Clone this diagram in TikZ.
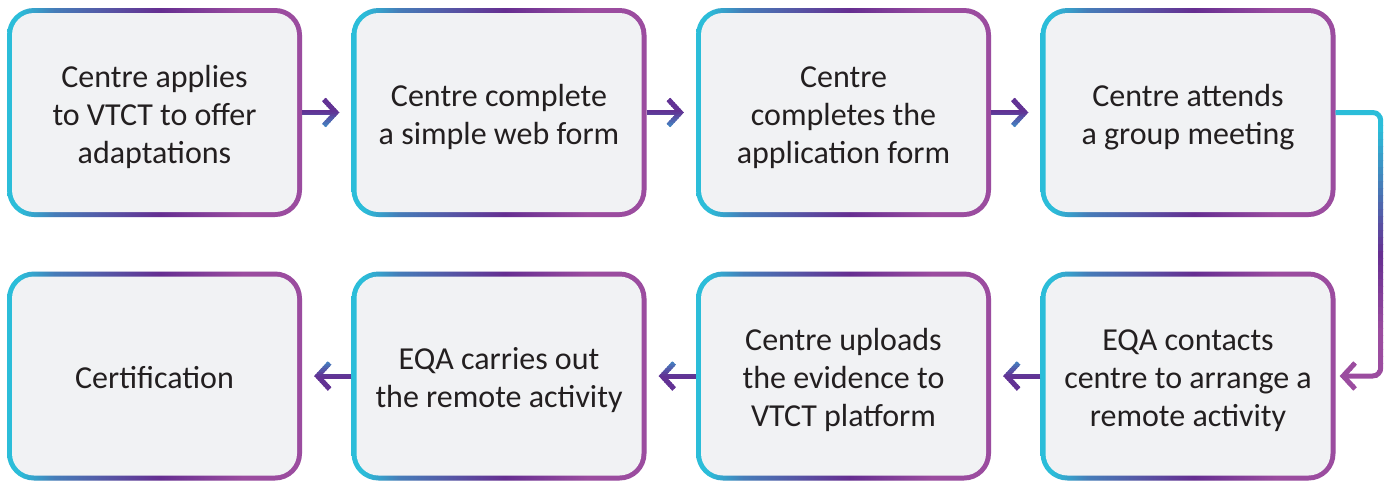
\documentclass[tikz,border=0pt]{standalone}
\usepackage{fontspec}
\setmainfont{Carlito}
\usetikzlibrary{arrows.meta,calc}
\definecolor{cyanc}{HTML}{2BBDD9}
\definecolor{purpd}{HTML}{662E91}
\definecolor{magc}{HTML}{9B4C9F}
\definecolor{boxbg}{HTML}{F1F2F4}
\definecolor{txt}{HTML}{231F20}
\definecolor{arrblue}{HTML}{3F8FC8}
\definecolor{arrpurp}{HTML}{623294}
\pgfdeclarehorizontalshading{boxgrad}{100bp}{color(0bp)=(cyanc); color(27bp)=(cyanc); color(33bp)=(cyanc!55!purpd); color(51bp)=(purpd); color(65bp)=(magc); color(100bp)=(magc)}
\newcommand\tsp{\rule{0pt}{33.6pt}}
\newcommand\bsp{\rule[-8pt]{0pt}{8pt}}
\tikzset{
 stepbox/.style={rectangle, rounded corners=27pt, minimum width=295pt, minimum height=209pt,
   inner sep=0pt, fill=boxbg, text=txt, align=center, font=\fontsize{32}{38}\selectfont,
   path picture={
     \shade[shading=boxgrad] (path picture bounding box.south west) rectangle (path picture bounding box.north east);
     \fill[boxbg, rounded corners=22pt] ([shift={(5pt,5pt)}]path picture bounding box.south west) rectangle ([shift={(-5pt,-5pt)}]path picture bounding box.north east);
   }},
 conn/.style={line width=5pt, -{Straight Barb[length=12pt,width=26pt]}, shorten >=12pt},
 sideconn/.style={line width=5pt, rounded corners=8pt, -{Straight Barb[length=12pt,width=26pt]}, shorten >=4pt},
}
\newcommand\gradconn[3]{%
  \foreach \k in {0,...,15}{%
    \pgfmathsetmacro\ss{#3*((\k+0.5)/16-0.5)*2}%
    \pgfmathtruncatemacro\pblue{max(0,\ss)*100}%
    \colorlet{bandc}{arrblue!\pblue!arrpurp}%
    \begin{scope}
      \clip ($(#1)!0.5!(#2)+(-220,-16+2*\k)$) rectangle ++(440,2.3);
      \draw[conn,bandc] (#1) -- (#2);
    \end{scope}}}
\begin{document}
\begin{tikzpicture}[x=1pt,y=-1pt]
\useasboundingbox (0,0) rectangle (1390,482);
\node[stepbox] (b1) at (154.5,112.5) {\tsp Centre applies\\to VTCT to offer\\adaptations\bsp};
\node[stepbox] (b2) at (499,112.5) {\tsp Centre complete\\a simple web form\bsp};
\node[stepbox] (b3) at (843.5,112.5) {\tsp Centre\\completes the\\application form\bsp};
\node[stepbox] (b4) at (1188,112.5) {\tsp Centre attends\\a group meeting\bsp};
\node[stepbox] (b5) at (1188,376) {\tsp EQA contacts\\centre to arrange a\\remote activity\bsp};
\node[stepbox] (b6) at (843.5,376) {\tsp Centre uploads\\the evidence to\\VTCT platform\bsp};
\node[stepbox] (b7) at (499,376) {\tsp EQA carries out\\the remote activity\bsp};
\node[stepbox] (b8) at (154.5,376) {\tsp Certification\bsp};
\gradconn{b1}{b2}{1}
\gradconn{b2}{b3}{1}
\gradconn{b3}{b4}{1}
\gradconn{b5}{b6}{-1}
\gradconn{b6}{b7}{-1}
\gradconn{b7}{b8}{-1}
\foreach \k in {0,...,41}{%
  \pgfmathsetmacro\yc{104+7*\k+3.5}%
  \pgfmathtruncatemacro\cyp{\yc<130 ? 100 : (\yc<255 ? 100-(\yc-130)/125*100 : 0)}%
  \pgfmathtruncatemacro\mgp{\yc<255 ? 0 : (\yc<330 ? (\yc-255)/75*100 : 100)}%
  \colorlet{bandc}{cyanc!\cyp!purpd}%
  \colorlet{bandc}{magc!\mgp!bandc}%
  \begin{scope}
    \clip (1300,104+7*\k) rectangle (1390,104+7*\k+7.3);
    \draw[sideconn,bandc] (b4.east) -| ($(b5.east)+(45,0)$) -- (b5.east);
  \end{scope}}
\end{tikzpicture}
\end{document}
